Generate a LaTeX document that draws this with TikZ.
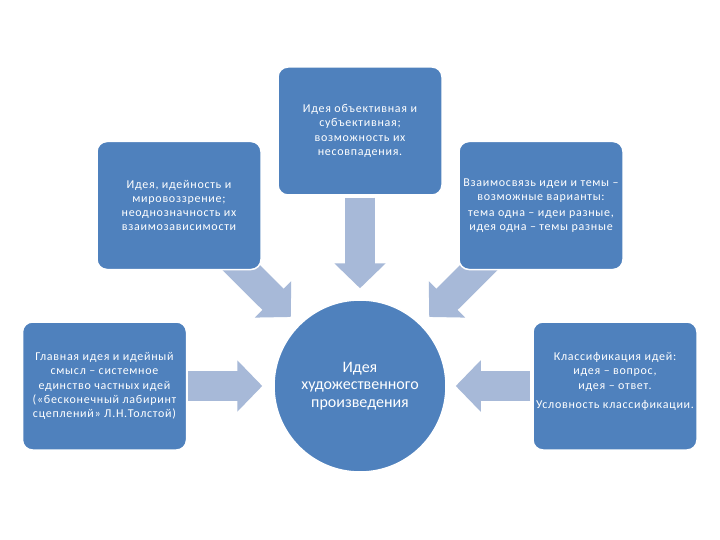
\documentclass[tikz,border=0pt]{standalone}
\usepackage{fontspec}
\setmainfont{Carlito}
\newfontfamily\boxfont[LetterSpace=6]{Carlito}
\usetikzlibrary{arrows.meta,backgrounds}
\definecolor{boxblue}{RGB}{79,129,189}
\definecolor{arrowblue}{RGB}{167,185,216}
\tikzset{
  box/.style={rectangle, rounded corners=10pt, fill=boxblue, draw=white, line width=1.5pt,
    minimum width=164pt, minimum height=128pt, text=white, align=center,
    font=\boxfont\fontsize{12}{14.3}\selectfont, inner sep=2pt},
  hub/.style={circle, fill=boxblue, draw=white, line width=1.5pt, minimum size=172pt,
    inner sep=0pt, text=white, align=center, font=\fontsize{16}{17.5}\selectfont},
  bigarrow/.style={draw=arrowblue, line width=30pt, -{Triangle[width=50pt,length=25pt]}},
}
\begin{document}
\begin{tikzpicture}[x=1pt,y=-1pt]
\useasboundingbox (0,0) rectangle (720,540);

\node[box] (top) at (360,131) {Идея объективная и\\субъективная;\\возможность их\\несовпадения.};
\node[box] (lt) at (179,205.5) {Идея, идейность и\\мировоззрение;\\неоднозначность их\\взаимозависимости};
\node[box] (rt) at (541,205.5) {Взаимосвязь идеи и темы –\\возможные варианты:\\[1pt]тема одна – идеи разные,\\идея одна – темы разные};
\node[box] (bl) at (104.5,386) {Главная идея и идейный\\смысл – системное\\единство частных идей\\(«бесконечный лабиринт\\сцеплений» Л.Н.Толстой)};
\node[box] (br) at (615,386) {Классификация идей:\\идея – вопрос,\\идея – ответ.\\[5pt]Условность классификации.\\[-3pt]\mbox{}};
\node[hub] (hub) at (360,386) {Идея\\художественного\\произведения};

\begin{scope}[on background layer]
  \fill[white] (0,0) rectangle (720,540);
  \draw[bigarrow, shorten <=2pt, shorten >=11pt] (top) -- (hub);
  \draw[bigarrow, shorten <=-18pt, shorten >=11pt] (lt) -- (hub);
  \draw[bigarrow, shorten <=-18pt, shorten >=11pt] (rt) -- (hub);
  \draw[bigarrow, shorten <=1pt, shorten >=11pt] (bl) -- (hub);
  \draw[bigarrow, shorten <=2pt, shorten >=9pt] (br) -- (hub);
\end{scope}
\end{tikzpicture}
\end{document}
